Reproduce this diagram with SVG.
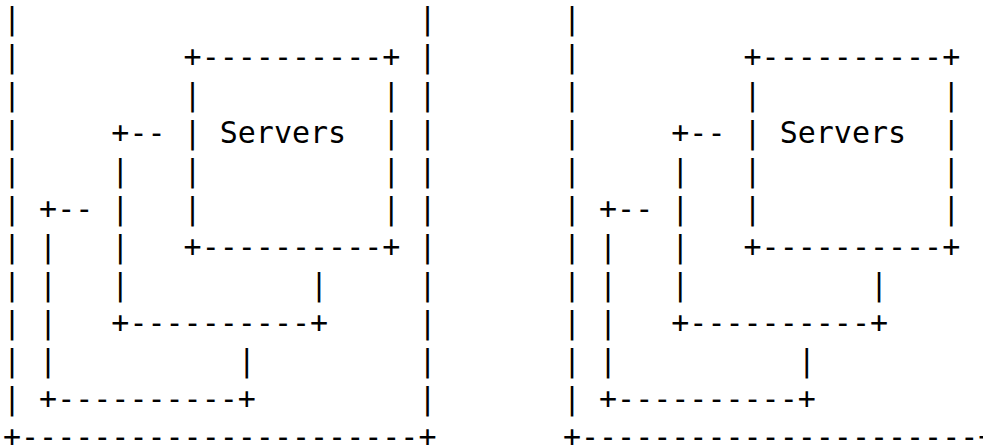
<svg xmlns="http://www.w3.org/2000/svg" width="983" height="446" viewBox="0 0 983 446">
<style>
text{font-family:"DejaVu Sans Mono","Liberation Mono",monospace;font-size:30px;fill:#000;white-space:pre}
</style>
<rect width="983" height="446" fill="#fff"/>
<g id="left-panel" xml:space="preserve">
<text x="3" y="29">|                      |</text>
<text x="3" y="67">|         +----------+ |</text>
<text x="3" y="105">|         |          | |</text>
<text x="3" y="143">|     +-- | Servers  | |</text>
<text x="3" y="181">|     |   |          | |</text>
<text x="3" y="219">| +-- |   |          | |</text>
<text x="3" y="257">| |   |   +----------+ |</text>
<text x="3" y="295">| |   |          |     |</text>
<text x="3" y="333">| |   +----------+     |</text>
<text x="3" y="371">| |          |         |</text>
<text x="3" y="409">| +----------+         |</text>
<text x="3" y="447">+----------------------+</text>
</g>
<g id="right-panel" xml:space="preserve">
<text x="562.9" y="29">|                      |</text>
<text x="562.9" y="67">|         +----------+ |</text>
<text x="562.9" y="105">|         |          | |</text>
<text x="562.9" y="143">|     +-- | Servers  | |</text>
<text x="562.9" y="181">|     |   |          | |</text>
<text x="562.9" y="219">| +-- |   |          | |</text>
<text x="562.9" y="257">| |   |   +----------+ |</text>
<text x="562.9" y="295">| |   |          |     |</text>
<text x="562.9" y="333">| |   +----------+     |</text>
<text x="562.9" y="371">| |          |         |</text>
<text x="562.9" y="409">| +----------+         |</text>
<text x="562.9" y="447">+----------------------+</text>
</g>
</svg>
